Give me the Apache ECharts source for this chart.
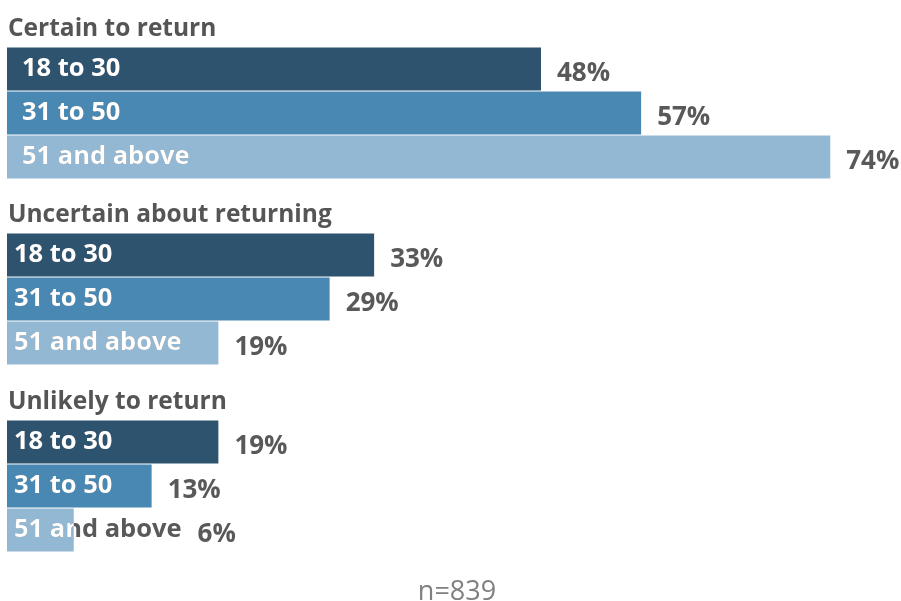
<!DOCTYPE html>
<html>
<head>
<meta charset="utf-8">
<script src="https://cdn.jsdelivr.net/npm/echarts@6/dist/echarts.min.js"></script>
<style>
  html, body { margin: 0; padding: 0; background: #ffffff; }
  #chart { width: 901px; height: 601px; }
</style>
</head>
<body>
<div id="chart"></div>
<script>
// Survey answers by age band, in percent
const groupTitles = ['Certain to return', 'Uncertain about returning', 'Unlikely to return'];
const ageBands = ['18 to 30', '31 to 50', '51 and above'];
const certainValues = [48, 57, 74];
const uncertainValues = [33, 29, 19];
const unlikelyValues = [19, 13, 6];
const sampleNote = 'n=839';

const groupValues = [certainValues, uncertainValues, unlikelyValues];
const bandColors = ['#2d536f', '#4a88b4', '#93b8d4'];

const FONT = '"Open Sans", "Noto Sans", sans-serif';
const TITLE_SIZE = 24.5;
const BAND_SIZE = 25.5;
const VALUE_SIZE = 26;
const gridTops = [47, 233, 420];
const gridHeight = 132;
const labelInset = [15, 7, 7];
const labelGap = 16;

// measures text so a value label can sit clear of a band name that runs past its bar
const measureCtx = document.createElement('canvas').getContext('2d');
function textWidth(text, size) {
  measureCtx.font = 'bold ' + size + 'px ' + FONT;
  return measureCtx.measureText(text).width;
}

const chart = echarts.init(document.getElementById('chart'), null, { renderer: 'canvas' });

const grids = [], xAxes = [], yAxes = [], series = [], graphics = [];

groupValues.forEach((vals, g) => {
  grids.push({ left: 7, right: 4, top: gridTops[g], height: gridHeight, containLabel: false });
  xAxes.push({ type: 'value', gridIndex: g, min: 0, max: 80, show: false, splitLine: { show: false } });
  yAxes.push({ type: 'category', gridIndex: g, data: ageBands, inverse: true, show: false });

  graphics.push({
    type: 'text', x: 8, y: gridTops[g] - 18, silent: true,
    style: {
      text: groupTitles[g], verticalAlign: 'middle', align: 'left',
      font: 'bold ' + TITLE_SIZE + 'px ' + FONT, fill: '#555555'
    }
  });

  // the bars
  series.push({
    type: 'bar', xAxisIndex: g, yAxisIndex: g,
    barCategoryGap: '2%',
    data: vals.map((v, i) => ({ value: v, itemStyle: { color: bandColors[i] } })),
    silent: true, animation: false
  });

  // band names inside the bars (white over the bar, grey past its end) and value labels
  series.push({
    type: 'custom', xAxisIndex: g, yAxisIndex: g,
    data: vals.map((v, i) => [v, i]),
    renderItem: (params, api) => {
      const value = api.value(0);
      const end = api.coord([value, api.value(1)]);
      const start = api.coord([0, api.value(1)]);
      const h = api.size([0, 1])[1] * 0.98;
      const name = ageBands[api.value(1)];
      const tx = start[0] + labelInset[g];
      const ty = end[1];
      const bandFont = 'bold ' + BAND_SIZE + 'px ' + FONT;
      const nameEnd = tx + textWidth(name, BAND_SIZE);
      const valueX = Math.max(end[0], nameEnd) + labelGap;
      const nameStyle = { text: name, x: tx, y: ty, align: 'left', verticalAlign: 'middle', font: bandFont };
      return {
        type: 'group',
        children: [
          { type: 'text', style: Object.assign({}, nameStyle, { fill: '#595959' }) },
          {
            type: 'text',
            style: Object.assign({}, nameStyle, { fill: '#ffffff' }),
            clipPath: {
              type: 'rect',
              shape: { x: start[0], y: ty - h / 2, width: end[0] - start[0], height: h }
            }
          },
          {
            type: 'text',
            style: {
              text: value + '%', x: valueX, y: ty + 5, align: 'left', verticalAlign: 'middle',
              font: 'bold ' + VALUE_SIZE + 'px ' + FONT, fill: '#595959'
            }
          }
        ]
      };
    },
    silent: true, animation: false, z: 5
  });
});

// sample size note under the chart
graphics.push({
  type: 'text', x: 457, y: 592, silent: true,
  style: {
    text: sampleNote, align: 'center', verticalAlign: 'middle',
    font: 'normal 27px ' + FONT, fill: '#808080'
  }
});

chart.setOption({
  animation: false,
  grid: grids,
  xAxis: xAxes,
  yAxis: yAxes,
  graphic: graphics,
  series: series
});
</script>
</body>
</html>
